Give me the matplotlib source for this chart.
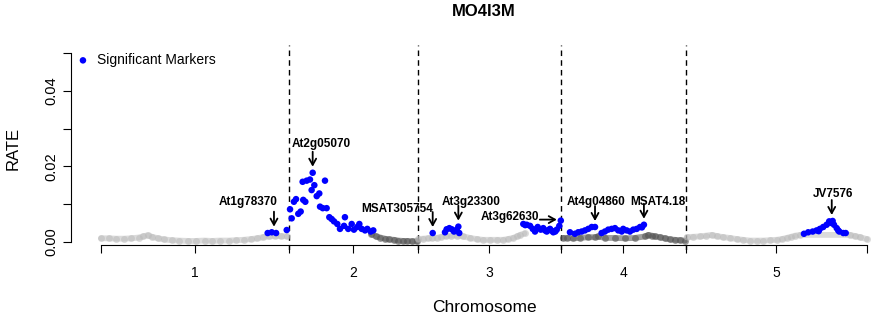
import matplotlib
matplotlib.use('Agg')
import matplotlib.pyplot as plt
from matplotlib.transforms import offset_copy

plt.rcParams['font.family'] = ['Liberation Sans', 'DejaVu Sans']

# chromosome names and lengths (cM)
chrom_names = ['1', '2', '3', '4', '5']
chrom_len = [125.3, 86.0, 95.3, 83.3, 120.7]

# all markers (grey), position within chromosome (cM) and RATE
bg1_pos = [0, 5, 10, 15, 20, 25, 28, 31, 34, 38, 42, 47, 52, 58, 63, 69, 74, 79, 85, 90, 95, 100, 104, 108, 112, 116, 120, 124]
bg1_rate = [.0009, .0009, .0008, .0008, .0009, .0011, .0014, .0017, .0013, .0009, .0006, .0004, .0003, .0002,
            .0002, .0003, .0002, .0003, .0003, .0004, .0005, .0007, .0009, .0012, .0014, .0015, .0015, .0014]
bg2_pos = [55, 58, 61, 64, 67, 70, 73, 76, 79, 82, 85.5]
bg2_rate = [.0020, .0014, .0011, .0008, .0006, .0005, .0003, .0002, .0002, .0001, .0001]
bg3_pos = [0, 3.3, 6.7, 9.5, 12.5, 15.3, 18.5, 22, 26, 30.2, 34.7, 39.1, 43.3, 48, 52.7, 56.7, 60, 63.3, 66, 68, 71]
bg3_rate = [.0007, .0008, .0009, .0010, .0010, .0013, .0015, .0016, .0016, .0014, .0010, .0007, .0005, .0005,
            .0005, .0005, .0007, .0010, .0014, .0018, .0022]
bg4_pos = [1.5, 4, 8, 12.7, 18, 22.7, 24.7, 29.3, 36, 42.7, 49.3, 56, 58.2, 60.7, 62.7, 66, 69.3, 72.7, 76, 79.3, 82.7]
bg4_rate = [.0010, .0010, .0009, .0010, .0012, .0012, .0014, .0010, .0010, .0009, .0010, .0014, .0018, .0016,
            .0014, .0012, .0009, .0006, .0005, .0004, .0003]
bg5_pos = [0.5, 4.7, 9.3, 13.3, 17.1, 20.7, 24.9, 29.3, 33.8, 38, 42.7, 47.3, 51.5, 56, 60.5, 64, 67.1, 70, 72.7,
           76, 109.3, 112.7, 116, 120.5]
bg5_rate = [.0012, .0013, .0014, .0016, .0018, .0015, .0012, .0010, .0007, .0005, .0003, .0003, .0003, .0004,
            .0005, .0007, .0010, .0013, .0016, .0018, .0018, .0015, .0012, .0007]

# significant markers (blue)
sig1_pos = [111.1, 113.8, 116.7, 123.8]
sig1_rate = [.0023, .0025, .0023, .0031]
sig2_pos = [0.7, 1.8, 3.3, 4.7, 6.2, 7.8, 9.1, 9.5, 10.9, 11.8, 14.0, 15.1, 15.8, 16.9, 18.5, 20.2, 20.7, 22.5,
            24.0, 25.1, 26.9, 28.5, 30.0, 32.2, 34.0, 36.7, 37.3, 39.5, 41.8, 43.3, 45.5, 46.9, 48.5, 50.7, 52.2,
            54.5, 56.2]
sig2_rate = [.0086, .0062, .0106, .0113, .0074, .0080, .0159, .0111, .0106, .0162, .0165, .0137, .0183, .0150,
             .0121, .0128, .0093, .0089, .0162, .0089, .0065, .0060, .0054, .0047, .0034, .0042, .0065, .0034,
             .0047, .0032, .0039, .0047, .0034, .0030, .0034, .0027, .0030]
sig3_pos = [9.8, 18.0, 19.1, 20.9, 22.5, 24.0, 25.8, 26.9, 27.5, 70.2, 71.5, 72.5, 74.7, 76.5, 78.0, 79.8, 81.8,
            83.5, 84.7, 85.8, 87.0, 88.0, 89.2, 90.2, 91.5, 92.5, 94.2, 95.2]
sig3_rate = [.0023, .0025, .0033, .0036, .0033, .0027, .0032, .0040, .0023, .0047, .0044, .0045, .0042, .0034,
             .0027, .0039, .0032, .0036, .0030, .0027, .0031, .0034, .0029, .0025, .0027, .0032, .0042, .0056]
sig4_pos = [6.0, 9.3, 11.5, 13.8, 16.0, 18.2, 20.5, 22.7, 27.1, 29.3, 31.5, 33.8, 36.0, 38.2, 40.5, 41.5, 43.8,
            46.0, 48.2, 50.5, 52.7, 54.0, 55.3]
sig4_rate = [.0025, .0021, .0025, .0027, .0030, .0034, .0039, .0039, .0023, .0027, .0032, .0034, .0036, .0030,
             .0027, .0034, .0030, .0027, .0032, .0034, .0039, .0038, .0045]
sig5_pos = [78.7, 81.5, 84.5, 87.1, 88.5, 89.3, 91.5, 93.8, 95.5, 96.5, 97.8, 98.7, 100.5, 101.5, 102.2, 104.9, 106.5]
sig5_rate = [.0021, .0025, .0027, .0030, .0028, .0034, .0039, .0045, .0054, .0050, .0055, .0045, .0036, .0030,
             .0027, .0023, .0023]

# labelled markers
ann_names = ['At1g78370', 'At2g05070', 'MSAT305754', 'At3g23300', 'At3g62630', 'At4g04860', 'MSAT4.18', 'JV7576']
ann_chrom = [1, 2, 3, 3, 3, 4, 4, 5]
ann_pos = [115.3, 15.8, 9.8, 26.9, 95.2, 22.7, 55.3, 97.2]
ann_rate = [.0024, .0183, .0023, .0040, .0056, .0039, .0045, .0055]

bg_pos = [bg1_pos, bg2_pos, bg3_pos, bg4_pos, bg5_pos]
bg_rate = [bg1_rate, bg2_rate, bg3_rate, bg4_rate, bg5_rate]
sig_pos = [sig1_pos, sig2_pos, sig3_pos, sig4_pos, sig5_pos]
sig_rate = [sig1_rate, sig2_rate, sig3_rate, sig4_rate, sig5_rate]

# cumulative offsets
offsets = [0]
for L in chrom_len:
    offsets.append(offsets[-1] + L)
total = offsets[-1]
centers = [(offsets[i] + offsets[i + 1]) / 2 for i in range(5)]

W, H = 872, 320
fig = plt.figure(figsize=(W / 100, H / 100), dpi=100)
# plot region in pixels (R style, extends past the right edge)
l, r, t, b = 71, 897, 45, 250
ax = fig.add_axes([l / W, 1 - b / H, (r - l) / W, (b - t) / H])

for i in range(5):
    xs = [p + offsets[i] for p in bg_pos[i]]
    if i % 2 == 0:
        col, a = '#b8b8b8', 0.5
    else:
        col, a = '#505050', 0.55
    ax.plot(xs, bg_rate[i], '-o', color=col, alpha=a, lw=4.2, ms=5, mec='none', solid_capstyle='round')

for i in range(5):
    xs = [p + offsets[i] for p in sig_pos[i]]
    ax.scatter(xs, sig_rate[i], s=22, color='#0000ff', edgecolors='none', zorder=3,
               label='Significant Markers' if i == 0 else None)

for x in offsets[1:-1]:
    ax.axvline(x, color='black', lw=1, ls=(0, (4, 3)), zorder=1)

# label offsets in pixels: text centre (dx, dy), arrow tail, arrow tip
text_off = {'At1g78370': (-26, 31), 'At2g05070': (9, 29), 'MSAT305754': (-36, 24), 'At3g23300': (13, 25),
            'At3g62630': (-51, 4), 'At4g04860': (1, 25), 'MSAT4.18': (14, 23), 'JV7576': (1, 27)}
for name, c, p, v in zip(ann_names, ann_chrom, ann_pos, ann_rate):
    x = p + offsets[c - 1]
    dx, dy = text_off[name]
    ax.text(x, v, name, transform=offset_copy(ax.transData, fig, x=dx, y=dy, units='dots'),
            ha='center', va='center', fontsize=8.5, fontweight='bold')
    if name == 'At3g62630':
        tail, tip = (-21, 1), (-4, 1)
    else:
        tail, tip = (0, 21), (0, 6)
    ax.annotate('', xy=(x, v), xycoords=offset_copy(ax.transData, fig, x=tip[0], y=tip[1], units='dots'),
                xytext=(x, v), textcoords=offset_copy(ax.transData, fig, x=tail[0], y=tail[1], units='dots'),
                arrowprops=dict(arrowstyle='->,head_length=0.45,head_width=0.25', color='black', lw=1.3,
                                shrinkA=0, shrinkB=0))

ax.set_xlim(-20, total + 20)
ax.set_ylim((241.7 - b) / 3768, (241.7 - t) / 3768)

for s in ['top', 'right']:
    ax.spines[s].set_visible(False)
ax.spines['left'].set_bounds(0, 0.05)
ax.spines['bottom'].set_bounds(0, total)
ax.spines['bottom'].set_position(('data', -0.0009))
for s in ['left', 'bottom']:
    ax.spines[s].set_linewidth(0.8)

xt = sorted(offsets + centers)
ax.set_xticks(xt)
ax.set_xticklabels([chrom_names[centers.index(v)] if v in centers else '' for v in xt], fontsize=10)
ax.set_yticks([0, 0.01, 0.02, 0.03, 0.04, 0.05])
ax.set_yticklabels(['0.00', '', '0.02', '', '0.04', ''], fontsize=10.5, rotation=90, va='center')
ax.tick_params(axis='x', direction='out', length=5.8, width=0.8, pad=9)
ax.tick_params(axis='y', direction='out', length=5.8, width=0.8, pad=3.5)

ax.legend(loc='upper left', bbox_to_anchor=(76 / W, 1 - 53 / H), bbox_transform=fig.transFigure,
          frameon=False, handletextpad=0.5, handlelength=1.0, borderpad=0, borderaxespad=0, fontsize=10)

fig.text(484 / W, 1 - 12 / H, 'MO4I3M', ha='center', va='center', fontsize=12, fontweight='bold')
fig.text(484 / W, 1 - 307 / H, 'Chromosome', ha='center', va='center', fontsize=12.5)
fig.text(13 / W, 1 - 148 / H, 'RATE', ha='center', va='center', fontsize=12, rotation=90)

fig.savefig('out.png', dpi=100)
